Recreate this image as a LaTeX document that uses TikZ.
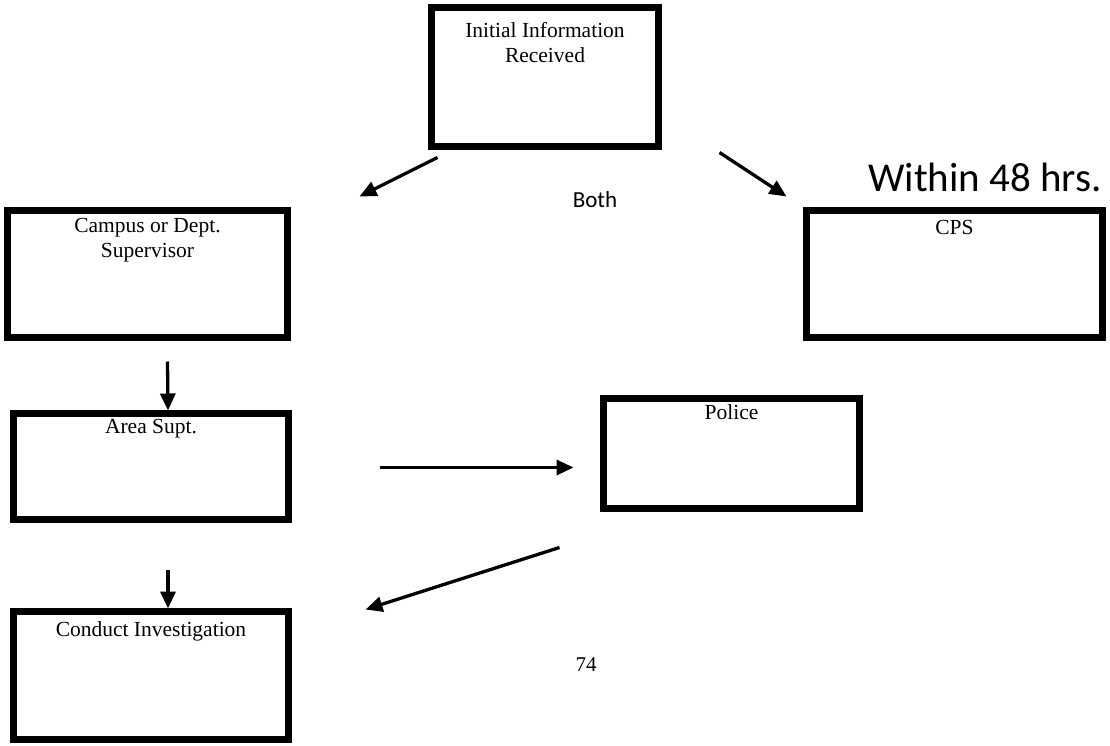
\documentclass[tikz,border=0pt]{standalone}
\usepackage{fontspec}
\setmainfont{Liberation Serif}
\newfontfamily\calib{Carlito}
\usetikzlibrary{arrows.meta,calc}
\tikzset{
  flowbox/.style={draw, line width=7pt, inner sep=0pt, outer sep=0pt, font=\fontsize{21.5}{25}\selectfont},
  flowarrow/.style={line width=3.3pt, -{Triangle[length=17pt,width=15pt]}},
}
\newcommand{\boxtext}[4]{\parbox[t][#2][t]{#1}{\centering\vspace{#3}#4}}
\begin{document}
\begin{tikzpicture}[x=1pt,y=-1pt]
\fill[white] (0,0) rectangle (1110,746);
\useasboundingbox (0,0) rectangle (1110,746);
% boxes (centres; sizes are path sizes)
\node[flowbox] (init) at (545,77) {\boxtext{227pt}{139pt}{15pt}{Initial Information\\Received}};
\node[flowbox] (campus) at (147.5,274) {\boxtext{280pt}{127pt}{8pt}{Campus or Dept.\\Supervisor}};
\node[flowbox] (cps) at (954.5,274) {\boxtext{296pt}{127pt}{10pt}{CPS}};
\node[flowbox] (area) at (151,466.5) {\boxtext{275pt}{106pt}{5.5pt}{Area Supt.}};
\node[flowbox] (police) at (731.5,453.5) {\boxtext{256pt}{110pt}{6.5pt}{Police}};
\node[flowbox] (conduct) at (151,675.5) {\boxtext{275pt}{128pt}{10.5pt}{Conduct Investigation}};
% free texts
\node[font=\calib\fontsize{41}{48}\selectfont] (within) at (985,177) {Within 48 hrs.};
\node[font=\calib\fontsize{23}{28}\selectfont] (both) at (595,200) {Both};
\node[font=\fontsize{21}{25}\selectfont] (page) at (586,665) {74};
% arrow end points
\coordinate (a1s) at ($(init.south west)+(6,11)$);
\coordinate (a1e) at ($(campus.north east)+(72,-14)$);
\coordinate (a2s) at ($(init.south east)+(61,6)$);
\coordinate (a2e) at ($(cps.north west)+(-20,-14)$);
\coordinate (a3s) at ($(campus.south)+(20,24)$);
\coordinate (a3e) at ($(area.north)+(17,-3)$);
\coordinate (a4s) at ($(area.east)+(91,1)$);
\coordinate (a4e) at ($(police.west)+(-30,14)$);
\coordinate (a5s) at ($(police.south west)+(-44,39)$);
\coordinate (a5e) at ($(conduct.north east)+(77,-2)$);
\coordinate (a6s) at ($(area.south)+(17,50)$);
\coordinate (a6e) at ($(conduct.north)+(17,-3)$);
\draw[flowarrow] (a1s) -- (a1e);
\draw[flowarrow] (a2s) -- (a2e);
\draw[flowarrow] (a3s) -- (a3e);
\draw[flowarrow] (a4s) -- (a4e);
\draw[flowarrow] (a5s) -- (a5e);
\draw[flowarrow] (a6s) -- (a6e);
\end{tikzpicture}
\end{document}
